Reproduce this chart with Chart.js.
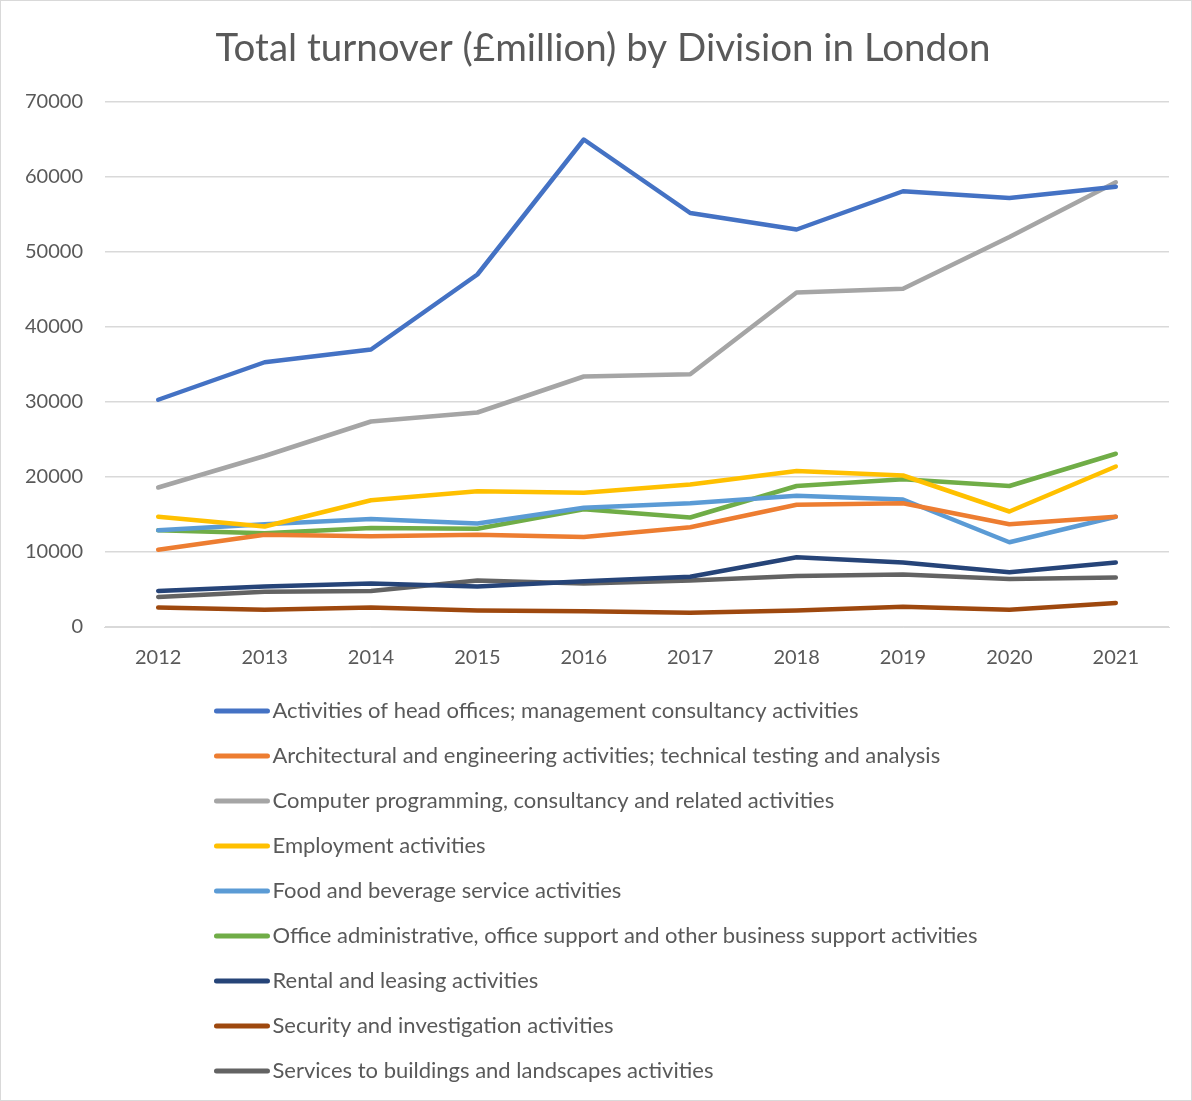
<!DOCTYPE html>
<html>
<head>
<meta charset="utf-8">
<title>Total turnover by Division in London</title>
<script src="https://cdn.jsdelivr.net/npm/chart.js@4.4.1/dist/chart.umd.min.js"></script>
<style>
  html, body { margin: 0; padding: 0; background: #fff; }
  #wrap { width: 1190px; height: 1099px; border: 1px solid #d9d9d9; position: relative; }
  canvas { display: block; }
</style>
</head>
<body>
<div id="wrap"><canvas id="myChart" width="1190" height="1099"></canvas></div>
<script>
const chartTitle = "Total turnover (£million) by Division in London";
const years = ["2012", "2013", "2014", "2015", "2016", "2017", "2018", "2019", "2020", "2021"];

const headOffices = [30300, 35300, 37000, 47000, 65000, 55200, 53000, 58100, 57200, 58700];
const architectural = [10300, 12300, 12100, 12300, 12000, 13300, 16300, 16500, 13700, 14700];
const computerProgramming = [18600, 22800, 27400, 28600, 33400, 33700, 44600, 45100, 52000, 59300];
const employment = [14700, 13400, 16900, 18100, 17900, 19000, 20800, 20200, 15400, 21400];
const foodBeverage = [12900, 13700, 14400, 13800, 15900, 16500, 17500, 17000, 11300, 14700];
const officeAdmin = [12900, 12500, 13200, 13100, 15700, 14600, 18800, 19700, 18800, 23100];
const rentalLeasing = [4800, 5400, 5800, 5400, 6100, 6700, 9300, 8600, 7300, 8600];
const security = [2600, 2300, 2600, 2200, 2100, 1900, 2200, 2700, 2300, 3200];
const buildingServices = [4000, 4700, 4800, 6200, 5800, 6200, 6800, 7000, 6400, 6600];

const seriesNames = [
  "Activities of head offices; management consultancy activities",
  "Architectural and engineering activities; technical testing and analysis",
  "Computer programming, consultancy and related activities",
  "Employment activities",
  "Food and beverage service activities",
  "Office administrative, office support and other business support activities",
  "Rental and leasing activities",
  "Security and investigation activities",
  "Services to buildings and landscapes activities"
];
const seriesValues = [headOffices, architectural, computerProgramming, employment, foodBeverage,
  officeAdmin, rentalLeasing, security, buildingServices];
const seriesColors = ["#4472C4", "#ED7D31", "#A5A5A5", "#FFC000", "#5B9BD5",
  "#70AD47", "#264478", "#9E480E", "#636363"];

const FONT = "Lato, 'Open Sans', sans-serif";
const TEXT = "#595959";

// Title plus a legend stacked one entry per row under the x axis
const titleAndLegend = {
  id: "titleAndLegend",
  afterDraw(chart) {
    const ctx = chart.ctx;
    const sets = chart.data.datasets;
    ctx.save();

    ctx.fillStyle = TEXT;
    ctx.font = "38.5px " + FONT;
    ctx.textAlign = "center";
    ctx.textBaseline = "middle";
    ctx.fillText(chartTitle, chart.width / 2 + 7, 48);

    ctx.font = "22px " + FONT;
    let widest = 0;
    sets.forEach((ds) => { widest = Math.max(widest, ctx.measureText(ds.label).width); });
    const lineLen = 53;
    const gap = 5;
    const left = (chart.width - (lineLen + gap + widest)) / 2;
    const top = chart.chartArea.bottom + 84;
    sets.forEach((ds, i) => {
      const y = top + i * 45;
      ctx.strokeStyle = ds.borderColor;
      ctx.lineWidth = 5;
      ctx.lineCap = "round";
      ctx.beginPath();
      ctx.moveTo(left + 2, y);
      ctx.lineTo(left + lineLen, y);
      ctx.stroke();
      ctx.fillStyle = TEXT;
      ctx.textAlign = "left";
      ctx.fillText(ds.label, left + lineLen + gap, y);
    });
    ctx.restore();
  }
};

const ctx = document.getElementById("myChart").getContext("2d");
new Chart(ctx, {
  type: "line",
  data: {
    labels: years,
    datasets: seriesNames.map((name, i) => ({
      label: name,
      data: seriesValues[i],
      borderColor: seriesColors[i],
      backgroundColor: seriesColors[i],
      borderWidth: 4.5,
      pointRadius: 0,
      tension: 0,
      borderCapStyle: "round",
      borderJoinStyle: "round",
      fill: false,
    })),
  },
  options: {
    responsive: false,
    animation: false,
    layout: { padding: { left: 2, right: 22, top: 101, bottom: 419 } },
    scales: {
      x: {
        offset: true,
        grid: { display: false },
        border: { display: true, color: "#d9d9d9", width: 1 },
        ticks: { color: TEXT, font: { family: FONT, size: 20 }, padding: 11 },
      },
      y: {
        min: 0,
        max: 70000,
        ticks: {
          stepSize: 10000,
          color: TEXT,
          font: { family: FONT, size: 20 },
          padding: 22,
          callback: (v) => String(v),
        },
        grid: { color: "#d9d9d9", lineWidth: 1.5, drawTicks: false },
        border: { display: false },
      },
    },
    plugins: {
      legend: { display: false },
      tooltip: { enabled: false },
      title: { display: false },
    },
  },
  plugins: [titleAndLegend],
});
</script>
</body>
</html>
